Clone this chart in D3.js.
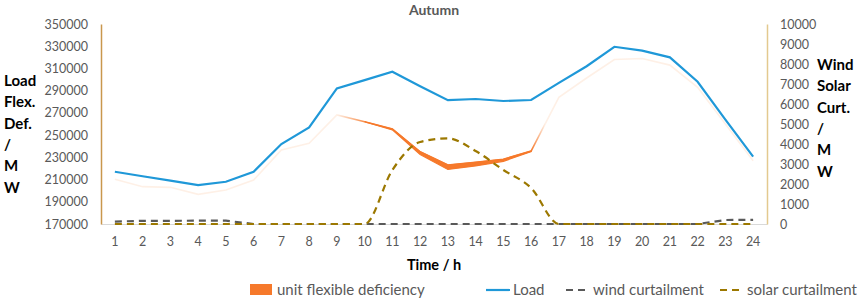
<!DOCTYPE html>
<html><head><meta charset="utf-8">
<script src="https://cdn.jsdelivr.net/npm/d3@7"></script>
<style>
body{margin:0;background:#fff;}
svg{display:block;font-family:Lato,"Open Sans",sans-serif;}
</style></head>
<body><svg id="c" width="858" height="301"></svg>
<script>
const hours = d3.range(1,25);
const load = [217000,213000,209000,205000,208000,217000,242000,257000,292000,299500,307000,294000,281500,282500,280700,281600,297000,312000,329500,326000,320000,298000,264000,230600];
const flexLine = [210200,203600,203000,196700,200600,209600,236600,242600,268100,262000,255500,235000,223100,225500,228200,235700,284000,301400,318000,319000,313000,293000,260000,227000];
const deficiency = [0,0,0,0,0,0,0,0,0,0,800,2500,4000,3200,1800,600,0,0,0,0,0,0,0,0];
const wind = [120,160,160,165,165,0,0,0,0,0,0,0,0,0,0,0,0,0,0,0,0,0,200,210];
const solar = [0,0,0,0,0,0,0,0,0,0,2700,4100,4280,3650,2700,1800,0,0,0,0,0,0,0,0];
const leftTicks = d3.range(170000,350001,20000);
const rightTicks = d3.range(0,10001,1000);
const leftTitle = ["Load","Flex.","Def.","/","M","W"];
const rightTitle = ["Wind","Solar","Curt.","/","M","W"];
const legendItems = [
  {label:"unit flexible deficiency", type:"rect"},
  {label:"Load", type:"line"},
  {label:"wind curtailment", type:"wind"},
  {label:"solar curtailment", type:"solar"}
];

const svg = d3.select("#c");
const L=101,R=767,T=24,B=224;
const x = d3.scaleBand().domain(hours).range([L,R]);
const xp = h => x(h)+x.bandwidth()/2;
const yL = d3.scaleLinear().domain([170000,350000]).range([B,T]);
const yR = d3.scaleLinear().domain([0,10000]).range([B,T]);
const C = {orange:"#f6792b", pale:"#fef0e6", blue:"#1f98d8", wind:"#595959", solar:"#9c7800", text:"#595959"};

// title
svg.append("text").attr("x",(L+R)/2).attr("y",15).attr("text-anchor","middle")
  .attr("font-weight","bold").attr("font-size",14).attr("fill",C.text).text("Autumn");

// x axis
const xa = svg.append("g").attr("transform",`translate(0,${B})`)
  .call(d3.axisBottom(x).tickSize(0).tickPadding(13));
xa.select(".domain").attr("stroke","#d9d9d9");
xa.selectAll("text").attr("font-size",12.5).attr("fill",C.text).attr("font-family","Lato,sans-serif");

// left axis
const la = svg.append("g").attr("transform",`translate(${L},0)`)
  .call(d3.axisLeft(yL).tickValues(leftTicks).tickSize(0).tickPadding(13).tickFormat(d3.format("d")));
la.select(".domain").attr("stroke","#c9974d").attr("stroke-width",1.5);
la.selectAll("text").attr("font-size",12.5).attr("fill",C.text).attr("font-family","Lato,sans-serif");

// right axis
const ra = svg.append("g").attr("transform",`translate(${R},0)`)
  .call(d3.axisRight(yR).tickValues(rightTicks).tickSize(0).tickPadding(13).tickFormat(d3.format("d")));
ra.select(".domain").attr("stroke","#e3c98f").attr("stroke-width",1.5);
ra.selectAll("text").attr("font-size",12.5).attr("fill",C.text).attr("font-family","Lato,sans-serif");

// axis titles
svg.append("g").selectAll("text").data(leftTitle).join("text")
  .attr("x",4).attr("y",(d,i)=>86+i*21.3).attr("font-weight","bold").attr("font-size",15).attr("fill","#000").text(d=>d);
svg.append("g").selectAll("text").data(rightTitle).join("text")
  .attr("x",817).attr("y",(d,i)=>70+i*21.3).attr("font-weight","bold").attr("font-size",15).attr("fill","#000").text(d=>d);
svg.append("text").attr("x",(L+R)/2).attr("y",270).attr("text-anchor","middle")
  .attr("font-weight","bold").attr("font-size",14.5).attr("fill","#000").text("Time / h");

// gradient for flexible line
const grad = svg.append("defs").append("linearGradient").attr("id","fg")
  .attr("gradientUnits","userSpaceOnUse").attr("x1",xp(1)).attr("x2",xp(24)).attr("y1",0).attr("y2",0);
const span = xp(24)-xp(1);
[[1,C.pale],[9,C.pale],[10.2,C.orange],[16,C.orange],[16.5,C.pale],[24,C.pale]].forEach(([h,c])=>{
  grad.append("stop").attr("offset",((h-1)*x.step())/span).attr("stop-color",c);
});

// Load line
svg.append("path").datum(hours).attr("fill","none").attr("stroke",C.blue).attr("stroke-width",2.2)
  .attr("d",d3.line().x(h=>xp(h)).y((h,i)=>yL(load[i])));

// flexible line (thin, gradient)
svg.append("path").datum(hours).attr("fill","none").attr("stroke","url(#fg)").attr("stroke-width",1.6)
  .attr("d",d3.line().x(h=>xp(h)).y((h,i)=>yL(flexLine[i])));
// deficiency area
svg.append("path").datum(hours.filter((h,i)=>i>=9&&i<=15)).attr("fill",C.orange).attr("stroke",C.orange).attr("stroke-width",1.2)
  .attr("d",d3.area().x(h=>xp(h)).y0(h=>yL(flexLine[h-1]-deficiency[h-1])).y1(h=>yL(flexLine[h-1])));

// wind
svg.append("path").datum(hours).attr("fill","none").attr("stroke",C.wind).attr("stroke-width",2.2)
  .attr("stroke-dasharray","7,5")
  .attr("d",d3.line().x(h=>xp(h)).y((h,i)=>yR(wind[i])));
// solar
svg.append("path").datum(hours).attr("fill","none").attr("stroke",C.solar).attr("stroke-width",2.2)
  .attr("stroke-dasharray","7,5")
  .attr("d",d3.line().curve(d3.curveMonotoneX).x(h=>xp(h)).y((h,i)=>yR(solar[i])));

// legend
const lg = svg.append("g");
const legX = [250,486,566,720];
legendItems.forEach((it,i)=>{
  const g = lg.append("g").attr("transform",`translate(${legX[i]},290)`);
  if(it.type==="rect") g.append("rect").attr("x",0).attr("y",-6).attr("width",22).attr("height",11).attr("fill",C.orange);
  else if(it.type==="line") g.append("line").attr("x1",0).attr("x2",24).attr("stroke",C.blue).attr("stroke-width",2.2);
  else g.append("line").attr("x1",0).attr("x2",24).attr("stroke",it.type==="wind"?C.wind:C.solar).attr("stroke-width",2.2).attr("stroke-dasharray","7,5");
  g.append("text").attr("x",27).attr("y",5).attr("font-size",15).attr("fill",C.text).text(it.label);
});
</script></body></html>
